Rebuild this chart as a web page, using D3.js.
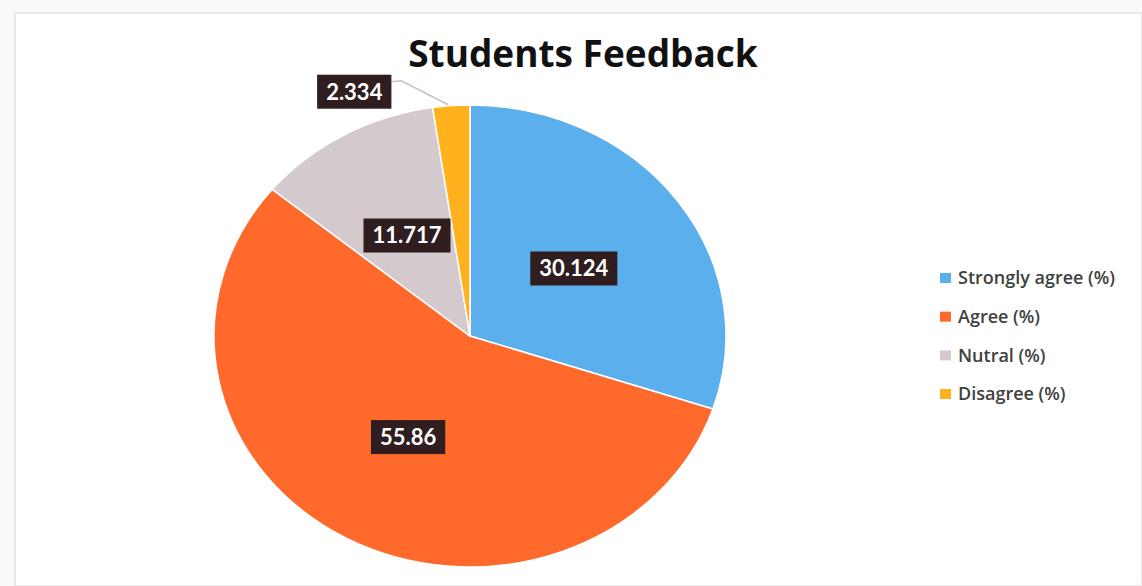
<!DOCTYPE html>
<html>
<head>
<meta charset="utf-8">
<script src="https://cdn.jsdelivr.net/npm/d3@7"></script>
<style>
  html, body { margin: 0; padding: 0; background: #ffffff; }
  svg { display: block; }
</style>
</head>
<body>
<svg id="chart" width="1142" height="586"></svg>
<script>
// ---- data ----
const categories = ["Strongly agree (%)", "Agree (%)", "Nutral (%)", "Disagree (%)"];
const values = [30.124, 55.86, 11.717, 2.334];
const valueLabels = ["30.124", "55.86", "11.717", "2.334"];
const colors = ["#5aafec", "#ff6a2c", "#d4c9cc", "#ffb21e"];
const title = "Students Feedback";

// ---- layout ----
const W = 1142, H = 586;
const cx = 470, cy = 336, R = 256, sy = 0.902;

const svg = d3.select("#chart");

// background / chart area
svg.append("rect").attr("x", 0).attr("y", 0).attr("width", W).attr("height", H).attr("fill", "#fbf8f9");
svg.append("rect").attr("x", 15).attr("y", 13).attr("width", W - 15).attr("height", H - 13)
  .attr("fill", "#ffffff").attr("stroke", "#eadfe2").attr("stroke-width", 1.5);

// title
svg.append("text")
  .attr("x", 583).attr("y", 67)
  .attr("text-anchor", "middle")
  .attr("font-family", "'Open Sans', Lato, sans-serif")
  .attr("font-weight", 700)
  .attr("font-size", 37)
  .attr("fill", "#111111")
  .text(title);

const pie = d3.pie().sort(null).value(d => d);
const arcs = pie(values);
const arc = d3.arc().innerRadius(0).outerRadius(R);

const g = svg.append("g").attr("transform", `translate(${cx},${cy}) scale(1,${sy})`);
g.selectAll("path.slice")
  .data(arcs)
  .enter().append("path")
  .attr("class", "slice")
  .attr("d", arc)
  .attr("fill", (d, i) => colors[i])
  .attr("stroke", "#ffffff")
  .attr("stroke-width", 1.5)
  .attr("vector-effect", "non-scaling-stroke");

// data labels
const labelFont = "Lato, 'Open Sans', sans-serif";
function drawLabel(x, y, txt) {
  const lg = svg.append("g").attr("class", "dlabel").attr("transform", `translate(${x},${y})`);
  const t = lg.append("text")
    .attr("text-anchor", "middle")
    .attr("dy", "0.36em")
    .attr("font-family", labelFont)
    .attr("font-weight", 700)
    .attr("font-size", 22)
    .attr("fill", "#ffffff")
    .text(txt);
  const w = t.node().getComputedTextLength();
  const bw = w + 18, bh = 34;
  lg.insert("rect", "text")
    .attr("x", -bw / 2).attr("y", -bh / 2)
    .attr("width", bw).attr("height", bh)
    .attr("fill", "#2f1d1f");
  return bw;
}

arcs.forEach((d, i) => {
  if (i < 3) {
    const [x, y] = arc.centroid(d);
    drawLabel(cx + x, cy + y * sy, valueLabels[i]);
  } else {
    // outside label with leader line
    const mid = (d.startAngle + d.endAngle) / 2;
    const ex = cx + R * Math.sin(mid);
    const ey = cy - R * Math.cos(mid) * sy;
    const lx = ex - 97, ly = ey - 14;
    const bw = drawLabel(lx, ly, valueLabels[i]);
    svg.insert("path", ".dlabel")
      .attr("d", d3.line()([[ex - 3, ey - 1], [ex - 50, ey - 25], [lx + bw / 2, ey - 24]]))
      .attr("fill", "none")
      .attr("stroke", "#c8c0c2")
      .attr("stroke-width", 1.5);
  }
});

// legend
const legend = svg.append("g").attr("transform", "translate(940,0)");
const legendY = d3.scalePoint().domain(categories).range([278, 394]);
categories.forEach((c, i) => {
  const y = legendY(c);
  legend.append("rect")
    .attr("x", 0).attr("y", y - 5)
    .attr("width", 11).attr("height", 10)
    .attr("fill", colors[i]);
  legend.append("text")
    .attr("x", 18).attr("y", y)
    .attr("dy", "0.36em")
    .attr("font-family", "'Open Sans', Lato, sans-serif")
    .attr("font-weight", 600)
    .attr("font-size", 18)
    .attr("fill", "#404040")
    .text(c);
});
</script>
</body>
</html>
